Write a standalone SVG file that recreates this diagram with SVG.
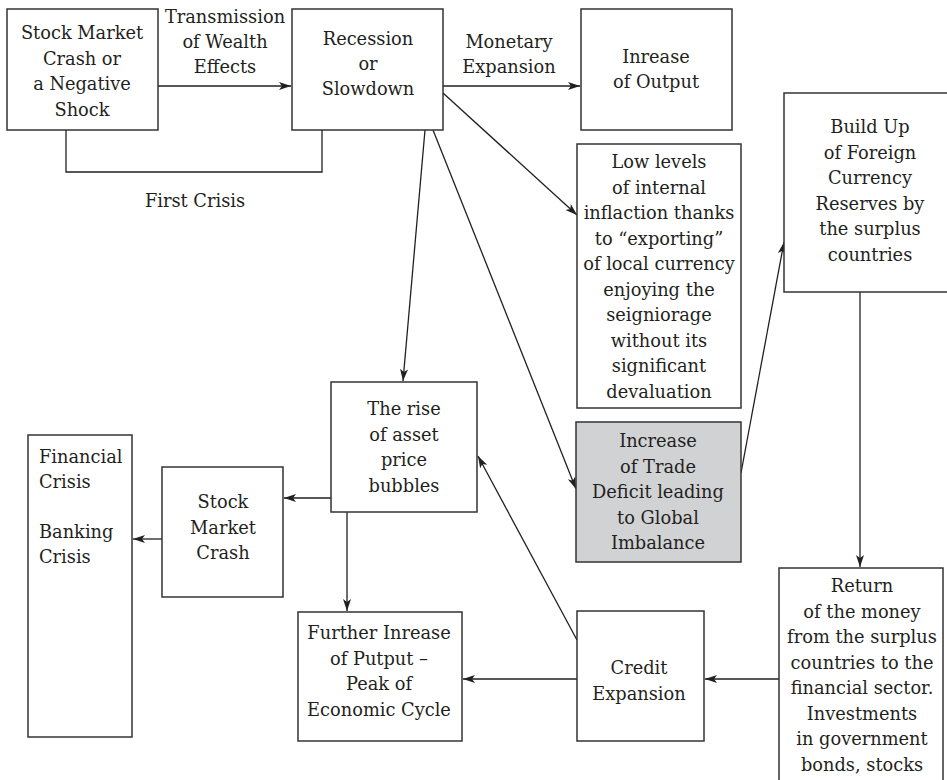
<svg xmlns="http://www.w3.org/2000/svg" width="947" height="780" viewBox="0 0 947 780">
<style>
.box{fill:#fff;stroke:#333;stroke-width:1.5}
.grey{fill:#d1d2d4;stroke:#333;stroke-width:1.5}
text{font-family:'DejaVu Serif','Liberation Serif',serif;font-size:17.8px;fill:#231f20}
.t{text-anchor:middle}
.tl{text-anchor:start}
.c{fill:none;stroke:#231f20;stroke-width:1.3}
</style>
<defs>
<marker id="ah" markerUnits="userSpaceOnUse" markerWidth="13" markerHeight="9" refX="12" refY="4" orient="auto">
<path d="M0,0 L12,4 L0,8 L3,4 Z" fill="#231f20"/>
</marker>
</defs>
<rect width="947" height="780" fill="#fff"/>

<g id="connectors">
<line class="c" x1="158" y1="86" x2="291" y2="86" marker-end="url(#ah)"/>
<polyline class="c" points="66,130 66,172 322,172 322,130"/>
<line class="c" x1="443" y1="86" x2="580" y2="86" marker-end="url(#ah)"/>
<line class="c" x1="443" y1="93" x2="577" y2="215" marker-end="url(#ah)"/>
<line class="c" x1="425" y1="130" x2="403" y2="381" marker-end="url(#ah)"/>
<line class="c" x1="433" y1="130" x2="576" y2="489" marker-end="url(#ah)"/>
<line class="c" x1="741" y1="473" x2="784" y2="242" marker-end="url(#ah)"/>
<line class="c" x1="860" y1="292" x2="860" y2="567" marker-end="url(#ah)"/>
<line class="c" x1="779" y1="679" x2="705" y2="679" marker-end="url(#ah)"/>
<line class="c" x1="577" y1="679" x2="463" y2="679" marker-end="url(#ah)"/>
<line class="c" x1="577" y1="640" x2="478" y2="456" marker-end="url(#ah)"/>
<line class="c" x1="331" y1="498" x2="284" y2="498" marker-end="url(#ah)"/>
<line class="c" x1="347" y1="512" x2="347" y2="611" marker-end="url(#ah)"/>
<line class="c" x1="162" y1="539" x2="133" y2="539" marker-end="url(#ah)"/>
<text class="t" x="225" y="23">Transmission</text>
<text class="t" x="225" y="48">of Wealth</text>
<text class="t" x="225" y="73">Effects</text>
<text class="t" x="509" y="48">Monetary</text>
<text class="t" x="509" y="73">Expansion</text>
<text class="t" x="195" y="207">First Crisis</text>
</g>

<g id="stock-crash-shock">
<rect class="box" x="7" y="9" width="151" height="121"/>
<text class="t" x="82" y="39">Stock Market</text>
<text class="t" x="82" y="64.5">Crash or</text>
<text class="t" x="82" y="90">a Negative</text>
<text class="t" x="82" y="115.5">Shock</text>
</g>

<g id="recession">
<rect class="box" x="292" y="9" width="151" height="121"/>
<text class="t" x="368" y="45">Recession</text>
<text class="t" x="368" y="70">or</text>
<text class="t" x="368" y="95">Slowdown</text>
</g>

<g id="output">
<rect class="box" x="581" y="9" width="151" height="121"/>
<text class="t" x="656" y="63">Inrease</text>
<text class="t" x="656" y="88">of Output</text>
</g>

<g id="low-inflation">
<rect class="box" x="577" y="144" width="164" height="264"/>
<text class="t" x="659" y="168">Low levels</text>
<text class="t" x="659" y="193.5">of internal</text>
<text class="t" x="659" y="219">inflaction thanks</text>
<text class="t" x="659" y="244.5">to “exporting”</text>
<text class="t" x="659" y="270">of local currency</text>
<text class="t" x="659" y="295.5">enjoying the</text>
<text class="t" x="659" y="321">seigniorage</text>
<text class="t" x="659" y="346.5">without its</text>
<text class="t" x="659" y="372">significant</text>
<text class="t" x="659" y="397.5">devaluation</text>
</g>

<g id="build-up">
<rect class="box" x="784" y="93" width="176" height="199"/>
<text class="t" x="870" y="133">Build Up</text>
<text class="t" x="870" y="158.5">of Foreign</text>
<text class="t" x="870" y="184">Currency</text>
<text class="t" x="870" y="209.5">Reserves by</text>
<text class="t" x="870" y="235">the surplus</text>
<text class="t" x="870" y="260.5">countries</text>
</g>

<g id="trade-deficit">
<rect class="grey" x="576" y="422" width="165" height="140"/>
<text class="t" x="658" y="447">Increase</text>
<text class="t" x="658" y="472.5">of Trade</text>
<text class="t" x="658" y="498">Deficit leading</text>
<text class="t" x="658" y="523.5">to Global</text>
<text class="t" x="658" y="549">Imbalance</text>
</g>

<g id="return-money">
<rect class="box" x="779" y="568" width="164" height="232"/>
<text class="t" x="862" y="592">Return</text>
<text class="t" x="862" y="617.5">of the money</text>
<text class="t" x="862" y="643">from the surplus</text>
<text class="t" x="862" y="668.5">countries to the</text>
<text class="t" x="862" y="694">financial sector.</text>
<text class="t" x="862" y="719.5">Investments</text>
<text class="t" x="862" y="745">in government</text>
<text class="t" x="862" y="770.5">bonds, stocks</text>
</g>

<g id="credit-expansion">
<rect class="box" x="577" y="611" width="127" height="130"/>
<text class="t" x="639" y="674">Credit</text>
<text class="t" x="639" y="699.5">Expansion</text>
</g>

<g id="asset-bubbles">
<rect class="box" x="331" y="382" width="146" height="130"/>
<text class="t" x="404" y="415">The rise</text>
<text class="t" x="404" y="440.5">of asset</text>
<text class="t" x="404" y="466">price</text>
<text class="t" x="404" y="491.5">bubbles</text>
</g>

<g id="stock-market-crash">
<rect class="box" x="162" y="467" width="121" height="130"/>
<text class="t" x="223" y="508">Stock</text>
<text class="t" x="223" y="533.5">Market</text>
<text class="t" x="223" y="559">Crash</text>
</g>

<g id="further-increase">
<rect class="box" x="298" y="612" width="164" height="129"/>
<text class="t" x="379" y="639">Further Inrease</text>
<text class="t" x="379" y="664.5">of Putput –</text>
<text class="t" x="379" y="690">Peak of</text>
<text class="t" x="379" y="715.5">Economic Cycle</text>
</g>

<g id="financial-crisis">
<rect class="box" x="28" y="435" width="104" height="302"/>
<text class="tl" x="39" y="463">Financial</text>
<text class="tl" x="39" y="488">Crisis</text>
<text class="tl" x="39" y="538">Banking</text>
<text class="tl" x="39" y="563">Crisis</text>
</g>
</svg>
